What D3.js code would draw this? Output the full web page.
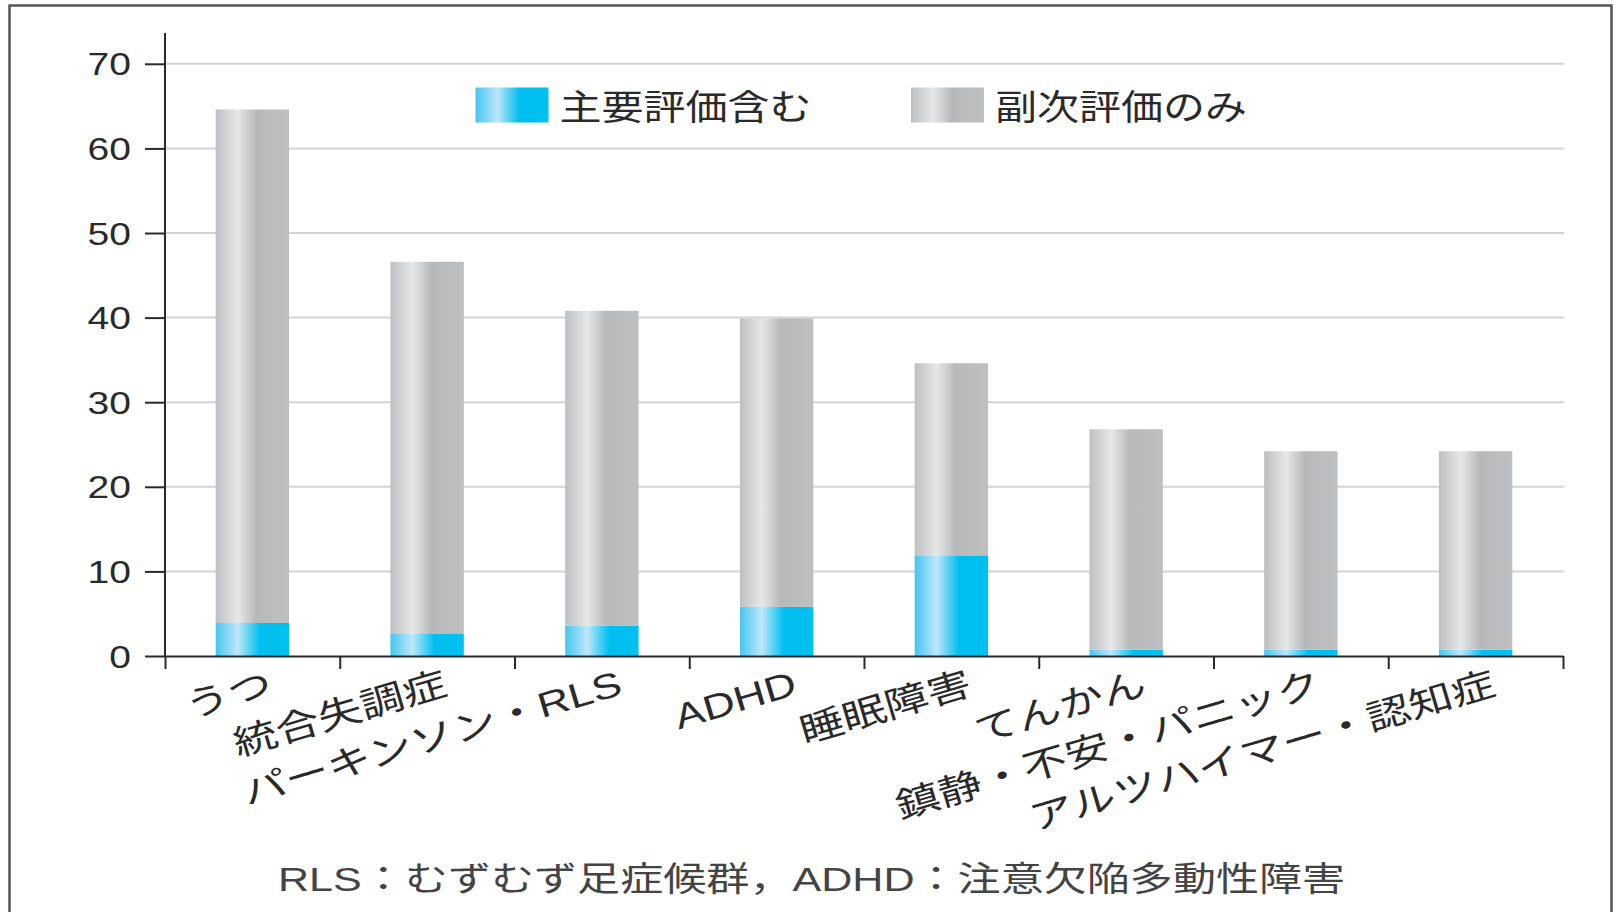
<!DOCTYPE html>
<html>
<head>
<meta charset="utf-8">
<script src="https://cdn.jsdelivr.net/npm/d3@7"></script>
<style>
body { margin: 0; background: #fff; }
svg { display: block; }
</style>
</head>
<body>
<svg id="chart" width="1614" height="912"></svg>
<script>
var categories = ["うつ", "統合失調症", "パーキンソン・RLS", "ADHD", "睡眠障害", "てんかん", "鎮静・不安・パニック", "アルツハイマー・認知症"];
var primary = [3.9, 2.6, 3.6, 5.8, 11.9, 0.75, 0.75, 0.75];
var secondaryOnly = [60.7, 44.0, 37.2, 34.1, 22.7, 26.05, 23.45, 23.45];
var seriesNames = ["主要評価含む", "副次評価のみ"];
var yTicks = [0, 10, 20, 30, 40, 50, 60, 70];
var footnote = "RLS：むずむず足症候群，ADHD：注意欠陥多動性障害";

var svg = d3.select('#chart');
var plotLeft = 165, plotRight = 1563, plotTop = 63.8, base = 656;
var stretch = 1.26;
var font = '"Liberation Sans", "Noto Sans CJK JP", sans-serif';
var ink = "#2a2a2a";

// gradients for the bars
var defs = svg.append('defs');
var grads = [
	{id: "g-blue", stops: [[0, "#45c5ef"], [0.3, "#bfe7f9"], [0.6, "#00bef0"], [1, "#00c1f1"]]},
	{id: "g-gray", stops: [[0, "#bebfc1"], [0.3, "#e6e7e8"], [0.55, "#b8b9bb"], [1, "#bebfc1"]]}
];
grads.forEach(function(g){
	var lg = defs.append('linearGradient').attr("id", g.id)
		.attr("x1", 0).attr("x2", 1).attr("y1", 0).attr("y2", 0);
	g.stops.forEach(function(s){
		lg.append('stop').attr("offset", s[0]).attr("stop-color", s[1]);
	});
});
var fills = ["url(#g-blue)", "url(#g-gray)"];

// frame
svg.append('rect')
	.attr("x", 9.5).attr("y", 5.5)
	.attr("width", 1602).attr("height", 930)
	.style("fill", "none").style("stroke", "#555").style("stroke-width", 2.5);

var y = d3.scaleLinear().domain([0, 70]).range([base, plotTop]);
var slot = d3.scaleBand().domain(categories).range([plotLeft, plotRight]).padding(0);
var barW = slot.bandwidth() * 0.42;

// grid
svg.append('g').selectAll('line')
	.data(yTicks.filter(function(d){ return d > 0; }))
	.enter().append('line')
	.attr("x1", plotLeft).attr("x2", plotRight + 1)
	.attr("y1", function(d){ return y(d); })
	.attr("y2", function(d){ return y(d); })
	.style("stroke", "#d2d3d5").style("stroke-width", 2);

// bars
var rows = categories.map(function(c, i){
	return {cat: c, primary: primary[i], secondary: secondaryOnly[i]};
});
var stacked = d3.stack().keys(["primary", "secondary"])(rows);
svg.append('g').selectAll('g')
	.data(stacked)
	.enter().append('g')
	.style("fill", function(d, i){ return fills[i]; })
	.selectAll('rect')
	.data(function(d){ return d; })
	.enter().append('rect')
	.attr("x", function(d){ return slot(d.data.cat) + (slot.bandwidth() - barW) / 2; })
	.attr("y", function(d){ return y(d[1]); })
	.attr("width", barW)
	.attr("height", function(d){ return y(d[0]) - y(d[1]); });

// y axis
var yAxis = svg.append('g')
	.attr("transform", "translate(" + plotLeft + ",0)")
	.call(d3.axisLeft(y).tickValues(yTicks).tickSize(20).tickSizeOuter(0).tickFormat(""));
yAxis.select('.domain').remove();
yAxis.selectAll('line').style("stroke", ink).style("stroke-width", 2);
yAxis.append('line')
	.attr("x1", 0).attr("x2", 0).attr("y1", 33).attr("y2", base + 1)
	.style("stroke", ink).style("stroke-width", 2);
yAxis.selectAll('.tick').append('text')
	.attr("transform", "translate(-34,11) scale(" + stretch + ",1)")
	.attr("text-anchor", "end")
	.style("font-family", font).style("font-size", "31px").style("fill", ink)
	.text(function(d){ return d; });

// x axis: ticks on the slot boundaries
var xb = d3.scaleLinear().domain([0, categories.length]).range([plotLeft, plotRight]);
var xAxis = svg.append('g')
	.attr("transform", "translate(0," + base + ")")
	.call(d3.axisBottom(xb).ticks(categories.length).tickSize(13).tickSizeOuter(0).tickFormat(""));
xAxis.select('.domain').style("stroke", ink).style("stroke-width", 2);
xAxis.selectAll('line').style("stroke", ink).style("stroke-width", 2);

svg.append('g').selectAll('text')
	.data(categories)
	.enter().append('text')
	.attr("transform", function(d){
		return "translate(" + (slot(d) + slot.bandwidth() / 2 + 22) + "," + (base + 38) + ") rotate(-16.5) scale(" + stretch + ",1)";
	})
	.attr("text-anchor", "end")
	.style("font-family", font).style("font-size", "35px").style("fill", ink)
	.text(function(d){ return d; });

// legend
var legendX = [475.5, 911];
var legend = svg.append('g').selectAll('g')
	.data(seriesNames)
	.enter().append('g')
	.attr("transform", function(d, i){ return "translate(" + legendX[i] + ",87.5)"; });
legend.append('rect')
	.attr("width", 73).attr("height", 35)
	.style("fill", function(d, i){ return fills[i]; });
legend.append('text')
	.attr("transform", "translate(84,32) scale(1.2,1)")
	.style("font-family", font).style("font-size", "35px").style("fill", ink)
	.text(function(d){ return d; });

// footnote
svg.append('text')
	.attr("transform", "translate(278,891) scale(1.267,1)")
	.style("font-family", font).style("font-size", "34px").style("fill", "#444")
	.text(footnote);
</script>
</body>
</html>
